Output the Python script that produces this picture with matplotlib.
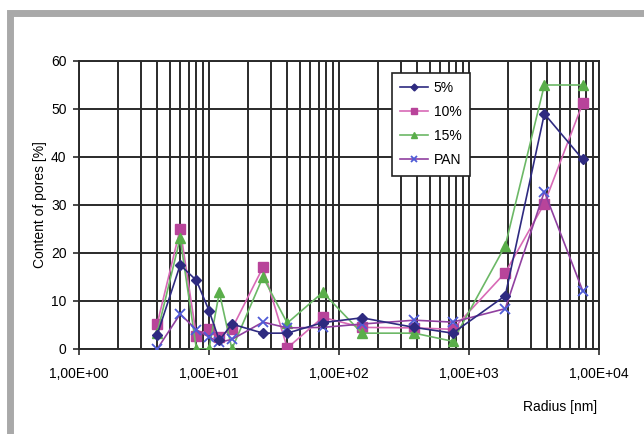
import matplotlib.pyplot as plt
from matplotlib.patches import Rectangle
from matplotlib.ticker import LogLocator, FixedLocator

plt.rcParams['font.family'] = ['Liberation Sans', 'DejaVu Sans']

# pore radius classes [nm]
radius = [4, 6, 8, 10, 12, 15, 26, 40, 75, 150, 380, 750, 1900, 3800, 7500]

# content of pores [%] per sample
p5 = [3, 17.5, 14.3, 8, 1.8, 5.2, 3.3, 3.3, 5.5, 6.5, 4.5, 3.3, 11.1, 49, 39.5]
p10 = [5.3, 25, 2.7, 4.2, 2.6, 4.2, 17, 0.2, 6.6, 4.5, 4.4, 4.1, 15.9, 30.3, 51.2]
p15 = [3.4, 23.1, 0, 0, 11.8, 0, 15, 5.4, 11.8, 3.3, 3.3, 1.6, 21.5, 55, 55]
pan = [0, 7.3, 4, 2.5, 1.4, 2, 5.6, 4.4, 4.5, 5.2, 6, 5.6, 8.4, 32.8, 12.1]

xticks = [1, 10, 100, 1000, 10000]
xtick_labels = ['1,00E+00', '1,00E+01', '1,00E+02', '1,00E+03', '1,00E+04']

fig = plt.figure(figsize=(6.44, 4.34), dpi=100)

# grey frame around the chart
fig.patches.append(Rectangle((10 / 644, -0.05), 1.1, (434 - 13) / 434 + 0.05,
                             transform=fig.transFigure, fill=False,
                             edgecolor='#a9a9a9', linewidth=5))

ax = fig.add_axes([79 / 644, 1 - 349 / 434, 520 / 644, 288 / 434])

ax.plot(radius, p5, color='#2e2a80', marker='D', markersize=5, lw=1.2, label='5%', zorder=4)
ax.plot(radius, p10, color='#d86ab6', marker='s', markersize=7,
        markerfacecolor='#b8449a', markeredgecolor='#b8449a', lw=1.2, label='10%', zorder=3)
ax.plot(radius, p15, color='#6cb866', marker='^', markersize=7,
        markerfacecolor='#5aae4a', markeredgecolor='#5aae4a', lw=1.2, label='15%', zorder=3)
ax.plot(radius, pan, color='#9040a0', marker='x', markersize=7, markeredgewidth=1.3,
        markeredgecolor='#4f5bd6', lw=1.2, label='PAN', zorder=3)

ax.set_xscale('log')
ax.set_xlim(1, 10000)
ax.set_ylim(0, 60)
ax.set_yticks(range(0, 61, 10))
ax.xaxis.set_major_locator(FixedLocator(xticks))
ax.set_xticklabels(xtick_labels)
ax.xaxis.set_minor_locator(LogLocator(base=10, subs=range(2, 10), numticks=20))

ax.grid(True, which='major', color='#2a2a2a', lw=1.4, zorder=0)
ax.grid(True, which='minor', axis='x', color='#2a2a2a', lw=1.4, zorder=0)
ax.set_axisbelow(True)
for s in ax.spines.values():
    s.set_color('#2a2a2a')
    s.set_linewidth(1.4)

ax.tick_params(axis='both', which='major', direction='out', length=4,
               width=1.2, labelsize=10, pad=5, color='#2a2a2a')
ax.tick_params(axis='x', which='minor', length=0)
ax.tick_params(axis='x', which='major', pad=9)

ax.set_ylabel('Content of pores [%]', fontsize=10, labelpad=3)
fig.text(560 / 644, 1 - 407 / 434, 'Radius [nm]', fontsize=10, ha='center', va='center')

leg = ax.legend(loc='upper left', bbox_to_anchor=((392 - 79) / 520, (349 - 73) / 288),
                fontsize=10, frameon=True, fancybox=False, edgecolor='#222222',
                framealpha=1, handlelength=2.0, labelspacing=0.72, borderpad=0.6,
                handletextpad=0.4, borderaxespad=0, markerscale=0.7)
leg.get_frame().set_linewidth(1.2)

fig.savefig('out.png', dpi=100)
